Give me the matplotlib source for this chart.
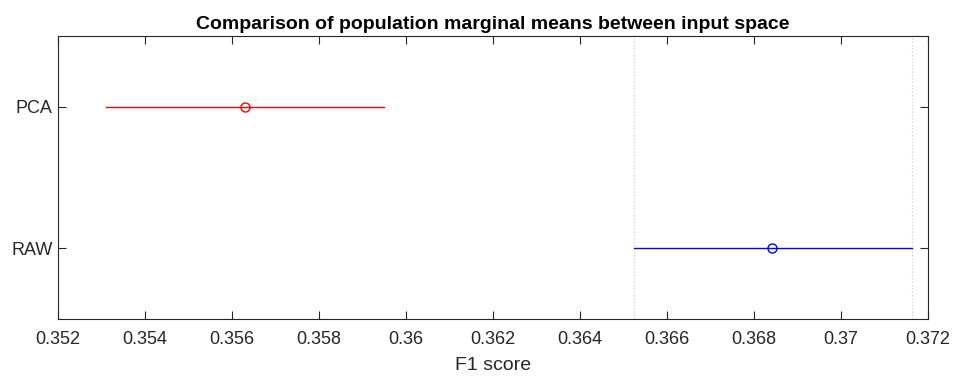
import matplotlib
matplotlib.use("Agg")
import matplotlib.pyplot as plt

# group estimates and comparison intervals
groups = ["PCA", "RAW"]
means = [0.35630, 0.36842]
lower = [0.35310, 0.36525]
upper = [0.35949, 0.37164]
colors = ["red", "blue"]
selected = 1  # RAW is the highlighted group

xticks = [0.352, 0.354, 0.356, 0.358, 0.36, 0.362, 0.364, 0.366, 0.368, 0.37, 0.372]
xticklabels = ["0.352", "0.354", "0.356", "0.358", "0.36", "0.362", "0.364",
               "0.366", "0.368", "0.37", "0.372"]

plt.rcParams['font.family'] = ['Liberation Sans', 'DejaVu Sans']

fig = plt.figure(figsize=(9.54, 3.76), dpi=100)
ax = fig.add_axes([0.0608, 0.1516, 0.9119, 0.7527])

n = len(groups)
ypos = [n - i for i in range(n)]  # PCA on top

# dotted reference lines at bounds of the selected group
ax.axvline(lower[selected], color="#c8c8c8", linestyle=(0, (1, 2)), linewidth=0.8, zorder=1)
ax.axvline(upper[selected], color="#c8c8c8", linestyle=(0, (1, 2)), linewidth=0.8, zorder=1)

for i in range(n):
    ax.plot([lower[i], upper[i]], [ypos[i], ypos[i]], color=colors[i], linewidth=1.0, zorder=2)
    ax.plot(means[i], ypos[i], marker="o", markersize=6.5, markerfacecolor="none",
            markeredgecolor=colors[i], markeredgewidth=1.0, zorder=3)

ax.set_xlim(0.352, 0.372)
ax.set_ylim(0.5, n + 0.5)
ax.set_xticks(xticks)
ax.set_xticklabels(xticklabels)
ax.set_yticks(ypos)
ax.set_yticklabels(groups)
ax.tick_params(direction="in", length=6, width=0.8, top=True, right=True,
               labelsize=13, colors="#262626", labelcolor="#262626")
ax.tick_params(axis="x", pad=9)
ax.tick_params(axis="y", pad=4)
for s in ax.spines.values():
    s.set_linewidth(0.8)
    s.set_color("#262626")

ax.set_xlabel("F1 score", fontsize=14, color="#262626", labelpad=6)
ax.set_title("Comparison of population marginal means between input space",
             fontsize=14, fontweight="bold", pad=5)

fig.savefig("out.png", dpi=100)
